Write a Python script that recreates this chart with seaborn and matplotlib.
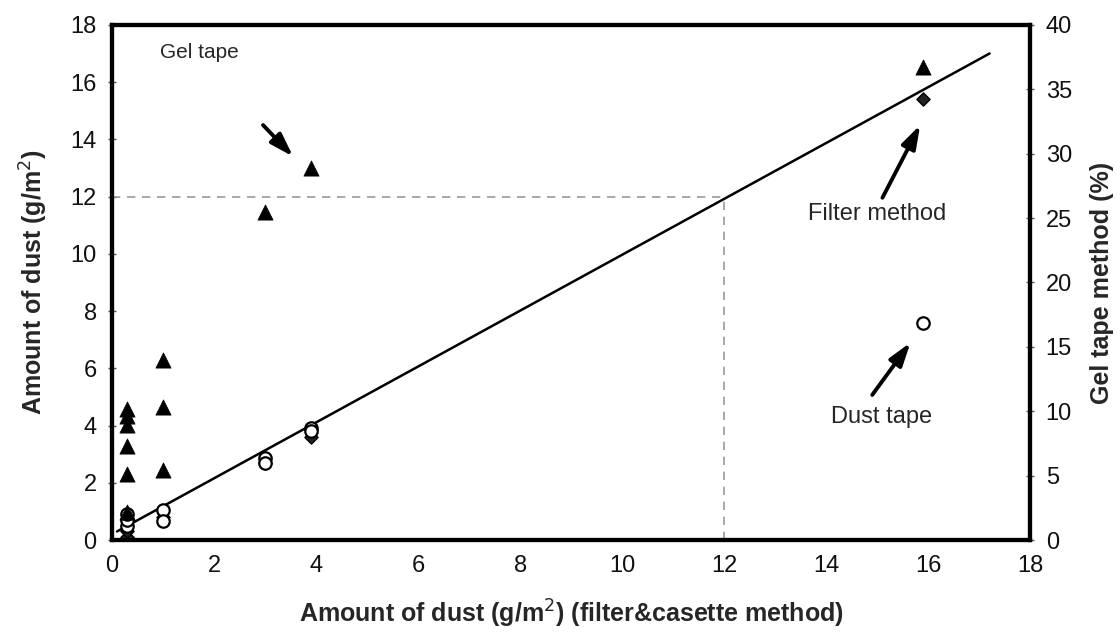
import matplotlib
matplotlib.use("Agg")
import matplotlib.pyplot as plt
import pandas as pd
import seaborn as sns

sns.set_style("white")
plt.rcParams["font.family"] = ["Liberation Sans", "DejaVu Sans"]

# --- data --------------------------------------------------------------------
# gel tape method, plotted against the right axis (%)
gel_x = [0.3, 0.3, 0.3, 0.3, 0.3, 0.3, 1.0, 1.0, 1.0, 3.0, 3.9, 15.9]
gel_pct = [10.2, 9.6, 8.9, 7.3, 5.1, 2.2, 14.0, 10.3, 5.4, 25.5, 28.9, 36.7]

# filter method (left axis)
filter_x = [0.3, 0.3, 1.0, 3.0, 3.9, 15.9]
filter_y = [0.1, 0.3, 0.8, 2.7, 3.6, 15.4]

# dust tape method (left axis)
dust_x = [0.3, 0.3, 0.3, 1.0, 1.0, 3.0, 3.0, 3.9, 3.9, 15.9]
dust_y = [0.5, 0.7, 0.9, 1.05, 0.65, 2.85, 2.7, 3.9, 3.8, 7.6]

# fitted line
fit_x = [0.1, 17.2]
fit_y = [0.3, 17.0]

gel = pd.DataFrame({"x": gel_x, "y": gel_pct})
filt = pd.DataFrame({"x": filter_x, "y": filter_y})
dust = pd.DataFrame({"x": dust_x, "y": dust_y})
fit = pd.DataFrame({"x": fit_x, "y": fit_y})

fig = plt.figure(figsize=(11.2, 6.38), dpi=100)
ax = fig.add_axes([0.1, 0.1536, 0.82, 0.8074])
ax2 = ax.twinx()

# --- guide lines at 12 g/m2 ---------------------------------------------------
ax.plot([0, 12], [12, 12], ls=(0, (5, 4)), color="#9a9a9a", lw=1.2, zorder=1)
ax.plot([12, 12], [0, 12], ls=(0, (5, 4)), color="#9a9a9a", lw=1.2, zorder=1)

sns.lineplot(data=fit, x="x", y="y", ax=ax, color="black", lw=1.8, zorder=2)
sns.scatterplot(data=filt, x="x", y="y", ax=ax, marker="D", s=45,
                color="#222222", edgecolor="black", linewidth=1, zorder=3)
sns.scatterplot(data=dust, x="x", y="y", ax=ax, marker="o", s=80,
                facecolor="white", edgecolor="black", linewidth=1.6, zorder=4)
sns.scatterplot(data=gel, x="x", y="y", ax=ax2, marker="^", s=120,
                color="black", edgecolor="black", linewidth=0.5, zorder=5)

# --- axes --------------------------------------------------------------------
ax.set_xlim(0, 18)
ax.set_ylim(0, 18)
ax2.set_ylim(0, 40)
ax.set_xticks(range(0, 19, 2))
ax.set_yticks(range(0, 19, 2))
ax2.set_yticks(range(0, 41, 5))

for a in (ax, ax2):
    for sp in a.spines.values():
        sp.set_linewidth(3)
        sp.set_color("black")
    a.tick_params(labelsize=17, length=6, width=1, direction="inout", pad=8,
                  color="#555555", labelcolor="#111111")

ax.set_xlabel("Amount of dust (g/m$^2$) (filter&casette method)",
              fontsize=18, fontweight="bold", labelpad=15)
ax.set_ylabel("Amount of dust (g/m$^2$)", fontsize=18, fontweight="bold", labelpad=15)
ax2.set_ylabel("Gel tape method (%)", fontsize=18, fontweight="bold", labelpad=13)

# --- annotations -------------------------------------------------------------
arrow = dict(arrowstyle="-|>,head_length=1.4,head_width=0.45", lw=2.8,
             color="black", shrinkA=0, shrinkB=0)
ax.text(0.94, 17.05, "Gel tape", fontsize=15, va="center", ha="left")
ax.annotate("", xy=(3.55, 13.4), xytext=(2.96, 14.5), arrowprops=arrow)
ax.text(13.65, 11.4, "Filter method", fontsize=17, va="center", ha="left")
ax.annotate("", xy=(15.84, 14.5), xytext=(15.1, 11.96), arrowprops=arrow)
ax.text(14.1, 4.3, "Dust tape", fontsize=17, va="center", ha="left")
ax.annotate("", xy=(15.65, 6.9), xytext=(14.9, 5.07), arrowprops=arrow)

fig.savefig("out.png", dpi=100)
